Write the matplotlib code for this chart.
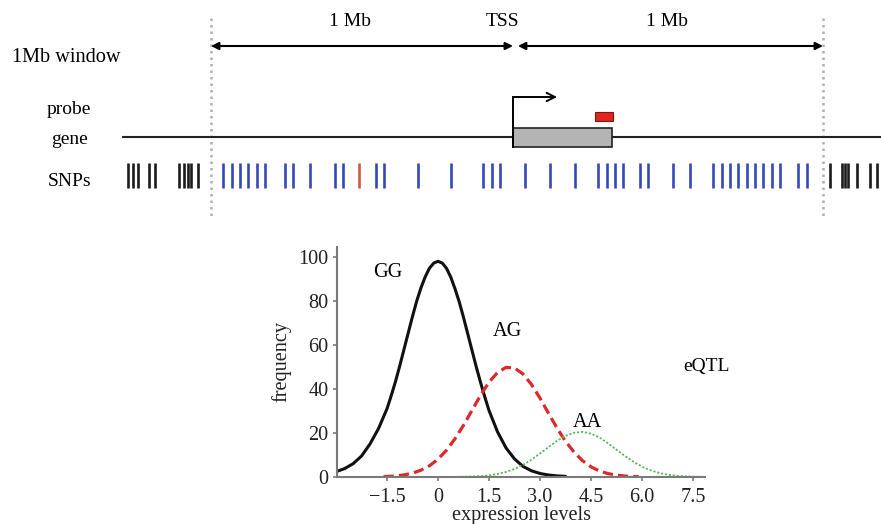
import matplotlib
matplotlib.use("Agg")
import matplotlib.pyplot as plt
from matplotlib.patches import Rectangle

plt.rcParams['font.family'] = ['Liberation Serif', 'DejaVu Serif']
FS = 14.6

# ---------------- data ----------------
# SNP positions, kb relative to the TSS
snp_outside_left = [-1271, -1255, -1239, -1203, -1183, -1105, -1088, -1075, -1065, -1042]
snp_inside = [-961, -931, -905, -879, -850, -824, -758, -732, -676, -595, -569,
              -461, -435, -324, -216, -111, -82, -56, 26, 108, 190, 265, 294, 320,
              346, 402, 428, 510, 565, 641, 670, 696, 722, 752, 778, 804, 833, 859,
              918, 948]
snp_eqtl = [-516]
snp_outside_right = [1023, 1062, 1072, 1082, 1111, 1154, 1176]
window_kb = 1000
gene_start, gene_end = -13, 310
probe_start, probe_end = 255, 314
tss_arrow_end = 131

# expression-level distributions per genotype
gg_x = [-3.0, -2.75, -2.5, -2.25, -2.0, -1.75,
        -1.5, -1.375, -1.25, -1.125, -1.0, -0.875, -0.75, -0.625, -0.5, -0.375, -0.25, -0.125,
        0.0, 0.125, 0.25, 0.375, 0.5, 0.625, 0.75, 0.875, 1.0, 1.125, 1.25, 1.375, 1.5,
        1.75, 2.0, 2.25, 2.5, 2.75, 3.0, 3.25, 3.5, 3.75]
gg_y = [2.4, 3.8, 6.0, 9.5, 15, 22,
        31, 37, 43.4, 50.5, 58, 65.5, 73, 80, 86, 91, 94.9, 97.2,
        98, 97.2, 94.8, 90.8, 85.5, 79.5, 72.5, 65, 57.5, 50, 43, 36.4, 30.2,
        20.5, 13.2, 8.2, 4.8, 2.8, 1.6, 0.9, 0.5, 0.3]
ag_x = [-1.6, -1.5, -1.25, -1.0, -0.75, -0.5, -0.25, 0.0, 0.25, 0.5, 0.75, 1.0, 1.25,
        1.5, 1.75, 2.0, 2.25, 2.5, 2.75, 3.0, 3.25, 3.5, 3.75, 4.0, 4.25, 4.5, 4.75,
        5.0, 5.25, 5.5, 5.75, 5.9]
ag_y = [0.2, 0.24, 0.48, 0.94, 1.75, 3.1, 5.1, 8.1, 12.2, 17.4, 23.5, 30.3, 37.1,
        43.1, 47.5, 49.8, 49.5, 46.8, 42.0, 35.8, 28.9, 22.2, 16.2, 11.3, 7.4, 4.6, 2.7,
        1.55, 0.83, 0.42, 0.2, 0.15]
aa_x = [-0.25, 0.0, 0.5, 1.0, 1.25, 1.5, 1.75, 2.0, 2.25, 2.5, 2.75, 3.0, 3.25, 3.5,
        3.75, 4.0, 4.25, 4.5, 4.75, 5.0, 5.25, 5.5, 5.75, 6.0, 6.25, 6.5, 6.75, 7.0,
        7.25, 7.5, 7.85]
aa_y = [0.0, 0.01, 0.04, 0.2, 0.4, 0.75, 1.35, 2.3, 3.65, 5.5, 7.9, 10.7, 13.6, 16.4,
        18.7, 20.1, 20.5, 19.7, 17.9, 15.3, 12.4, 9.5, 6.9, 4.7, 3.05, 1.86, 1.07, 0.59,
        0.3, 0.15, 0.05]
x_ticks = [-1.5, 0, 1.5, 3.0, 4.5, 6.0, 7.5]
x_ticklabels = ['\u22121.5', '0', '1.5', '3.0', '4.5', '6.0', '7.5']
y_ticks = [0, 20, 40, 60, 80, 100]

# ---------------- figure ----------------
W, H = 881, 524
fig = plt.figure(figsize=(W / 100, H / 100), dpi=100)


def kb(px):
    return (px - 517) / 306 * 1000


# diagram axes: x in kb, y in pixel rows from the top
ax = fig.add_axes([0, 0, 1, 1], zorder=0)
ax.set_xlim(kb(0), kb(W))
ax.set_ylim(H, 0)
ax.axis('off')

# window boundaries
ax.vlines([-window_kb, window_kb], 18, 218, colors='#b0b0b0',
          linestyles=(0, (1, 1.6)), lw=1.8, zorder=1)

# 1 Mb arrows
arrow_kw = dict(arrowstyle='<|-|>', color='black', lw=1.5, mutation_scale=11,
                shrinkA=0, shrinkB=0)
ax.annotate('', xy=(-window_kb, 46), xytext=(gene_start, 46), arrowprops=arrow_kw)
ax.annotate('', xy=(3, 46), xytext=(window_kb, 46), arrowprops=arrow_kw)
ax.text(kb(350), 22, '1 Mb', ha='center', va='center', fontsize=FS - 0.6)
ax.text(kb(667), 22, '1 Mb', ha='center', va='center', fontsize=FS - 0.6)
ax.text(kb(503), 22, 'TSS', ha='center', va='center', fontsize=FS - 0.6)

# row labels
ax.text(kb(12), 57, '1Mb window', ha='left', va='center', fontsize=FS)
ax.text(kb(69), 109, 'probe', ha='center', va='center', fontsize=FS - 0.6)
ax.text(kb(69), 139, 'gene', ha='center', va='center', fontsize=FS - 0.6)
ax.text(kb(70), 181, 'SNPs', ha='center', va='center', fontsize=FS - 0.6)

# genomic line and gene
ax.plot([kb(122), kb(W + 5)], [137, 137], color='#222222', lw=1.5, zorder=2,
        solid_capstyle='butt')
ax.add_patch(Rectangle((gene_start, 128), gene_end - gene_start, 19,
                       facecolor='#b4b4b4', edgecolor='#222222', lw=1.2, zorder=3))
ax.add_patch(Rectangle((probe_start, 112), probe_end - probe_start, 9,
                       facecolor='#e3241f', edgecolor='#7a1a10', lw=0.8, zorder=3))
# TSS arrow
ax.plot([gene_start, gene_start, tss_arrow_end - 10], [147, 97, 97], color='black',
        lw=1.4, zorder=4, solid_joinstyle='miter')
ax.annotate('', xy=(tss_arrow_end, 97), xytext=(tss_arrow_end - 30, 97),
            arrowprops=dict(arrowstyle='->', color='black', lw=1.4, mutation_scale=15,
                            shrinkA=0, shrinkB=0), zorder=4)

# SNPs
tick_lw = 1.9
ax.vlines(snp_outside_left, 163, 188, colors='#1c1c1c', lw=tick_lw, zorder=2)
ax.vlines(snp_outside_right, 163, 188, colors='#1c1c1c', lw=tick_lw, zorder=2)
ax.vlines(snp_inside, 163, 188, colors='#3448b8', lw=tick_lw, zorder=2)
ax.vlines(snp_eqtl, 163, 188, colors='#c8603f', lw=tick_lw, zorder=2)

# ---------------- distribution chart ----------------
bx = fig.add_axes([337 / W, 1 - 477 / H, (705 - 337) / W, (477 - 247) / H], zorder=2)
bx.set_facecolor('none')
bx.plot(gg_x, gg_y, color='#111111', lw=2.2, solid_capstyle='round', solid_joinstyle='round')
bx.plot(ag_x, ag_y, color='#d92b2b', lw=2.3, linestyle=(0, (3.2, 1.6)))
bx.plot(aa_x, aa_y, color='#5cb85c', lw=1.3, linestyle=(0, (1.2, 1.0)))
bx.set_xlim(-2.97, 7.85)
bx.set_ylim(0, 104.5)
for s in ['top', 'right']:
    bx.spines[s].set_visible(False)
for s in ['left', 'bottom']:
    bx.spines[s].set_color('#7a7a7a')
    bx.spines[s].set_linewidth(1.5)
bx.set_xticks(x_ticks)
bx.set_xticklabels(x_ticklabels)
bx.set_yticks(y_ticks)
bx.tick_params(axis='both', colors='#7a7a7a', labelcolor='#222222', labelsize=FS,
               length=3, width=1.2, direction='out', pad=3)
bx.tick_params(axis='x', pad=5)
bx.set_xlabel('expression levels', fontsize=FS, color='#222222', labelpad=-1)
bx.set_ylabel('frequency', fontsize=FS, color='#222222', labelpad=5)

bx.text(-1.49, 93, 'GG', ha='center', va='center', fontsize=FS)
bx.text(2.04, 66, 'AG', ha='center', va='center', fontsize=FS)
bx.text(4.4, 24.7, 'AA', ha='center', va='center', fontsize=FS)
bx.text(7.2, 50, 'eQTL', ha='left', va='center', fontsize=FS - 0.6, clip_on=False)

fig.savefig('out.png', dpi=100)
